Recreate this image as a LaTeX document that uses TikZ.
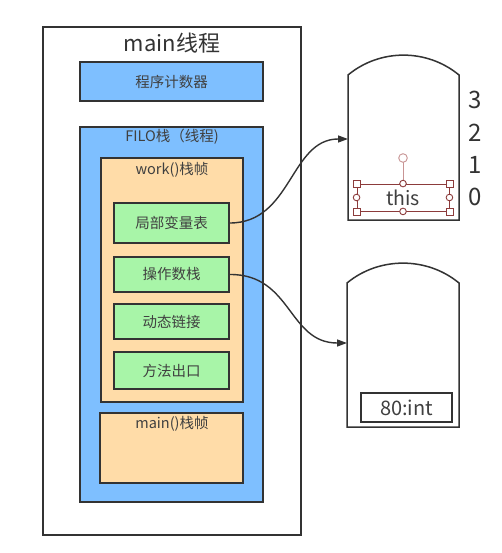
\documentclass[tikz,border=0pt]{standalone}
\usepackage{fontspec}
\setmainfont{Noto Sans CJK SC}
\usetikzlibrary{arrows.meta,calc}
\definecolor{ink}{HTML}{333333}
\definecolor{txt}{HTML}{404040}
\definecolor{blueF}{HTML}{7EBFFF}
\definecolor{peachF}{HTML}{FFDCA8}
\definecolor{greenF}{HTML}{A8F5A8}
\definecolor{hnd}{HTML}{8C3B3B}
\definecolor{hndl}{HTML}{C89494}
\tikzset{
  outerbox/.style={draw=ink, line width=1.2pt, fill=white, rectangle, inner sep=0pt},
  bluebox/.style={draw=ink, line width=1.5pt, fill=blueF, rectangle, inner sep=0pt},
  peachbox/.style={draw=ink, line width=1.5pt, fill=peachF, rectangle, inner sep=0pt},
  greenbox/.style={draw=ink, line width=1.5pt, fill=greenF, rectangle, inner sep=0pt, minimum width=115pt, font=\fontsize{14.5}{16}\selectfont, text=txt},
  lbl/.style={text=txt, inner sep=0pt, font=\fontsize{14.5}{16}\selectfont},
  numlbl/.style={text=ink, inner sep=0pt, font=\fontsize{24}{26}\selectfont},
  stackshape/.style={draw=ink, line width=1.5pt, fill=white},
  conn/.style={draw=ink, line width=1.4pt, -{Triangle[length=10pt,width=7pt]}},
  hsq/.style={draw=hnd, line width=0.9pt, fill=white},
}
\begin{document}
\begin{tikzpicture}[x=1pt, y=-1pt]
\useasboundingbox (0,0) rectangle (502,553);
\fill[white] (0,0) rectangle (502,553);
% main thread
\node[outerbox, minimum width=258pt, minimum height=508pt] (thread) at (172,281) {};
\node[text=ink, inner sep=0pt, font=\fontsize{22}{24}\selectfont] (threadlbl) at (172,43) {main线程};
\node[bluebox, minimum width=183pt, minimum height=39pt, font=\fontsize{14.5}{16}\selectfont, text=txt] (pc) at (171.5,81.5) {程序计数器};
\node[bluebox, minimum width=183pt, minimum height=375pt] (filo) at (171.5,314.5) {};
\node[lbl] (filolbl) at (172,137) {FILO栈（线程)};
\node[peachbox, minimum width=142pt, minimum height=244pt] (work) at (172,280) {};
\node[lbl] (worklbl) at (172,170) {work()栈帧};
\node[greenbox, minimum height=40pt] (lvt) at (171.5,223) {局部变量表};
\node[greenbox, minimum height=35pt] (ops) at (171.5,274.5) {操作数栈};
\node[greenbox, minimum height=35pt] (dyn) at (171.5,321.5) {动态链接};
\node[greenbox, minimum height=37pt] (ret) at (171.5,370.5) {方法出口};
\node[peachbox, minimum width=143pt, minimum height=70pt] (mainf) at (171.5,448) {};
\node[lbl] (mainflbl) at (172,424) {main()栈帧};
% right stacks
\draw[stackshape] (348,220) -- (348,75) .. controls (380,48.5) and (427,48.5) .. (459,75) -- (459,220) -- cycle;
\draw[stackshape] (347,427) -- (347,283) .. controls (379,256.5) and (427,256.5) .. (459,283) -- (459,427) -- cycle;
\coordinate (topin) at (348,139);
\coordinate (botin) at (347,343);
% numbers
\node[numlbl] (n3) at (475,100) {3};
\node[numlbl] (n2) at (475,133) {2};
\node[numlbl] (n1) at (475,165) {1};
\node[numlbl] (n0) at (475,197) {0};
% this box with selection handles
\node[draw=hnd, line width=0.9pt, minimum width=92pt, minimum height=27pt, inner sep=0pt, text=txt, font=\fontsize{19.5}{21}\selectfont] (thisbox) at (403,197.5) {this};
\draw[hndl, line width=0.9pt] (thisbox.north) -- (403,162);
\draw[draw=hndl, line width=0.9pt, fill=white] (403,158) circle (4.3pt);
\foreach \p in {north west, north east, south west, south east}{
  \draw[hsq] ($(thisbox.\p)+(-3.5,-3.5)$) rectangle ($(thisbox.\p)+(3.5,3.5)$);
}
\foreach \p in {north, south, west, east}{
  \draw[hsq] (thisbox.\p) circle (3.3pt);
}
% 80:int
\node[draw=ink, line width=1.4pt, minimum width=91pt, minimum height=29pt, inner sep=0pt, text=txt, font=\fontsize{20}{22}\selectfont] (val) at (406.5,407.5) {80:int};
% connectors
\draw[conn] (lvt.east) .. controls (292,223) and (290,139) .. (topin);
\draw[conn] (ops.east) .. controls (292,274) and (288,343) .. (botin);
\end{tikzpicture}
\end{document}
